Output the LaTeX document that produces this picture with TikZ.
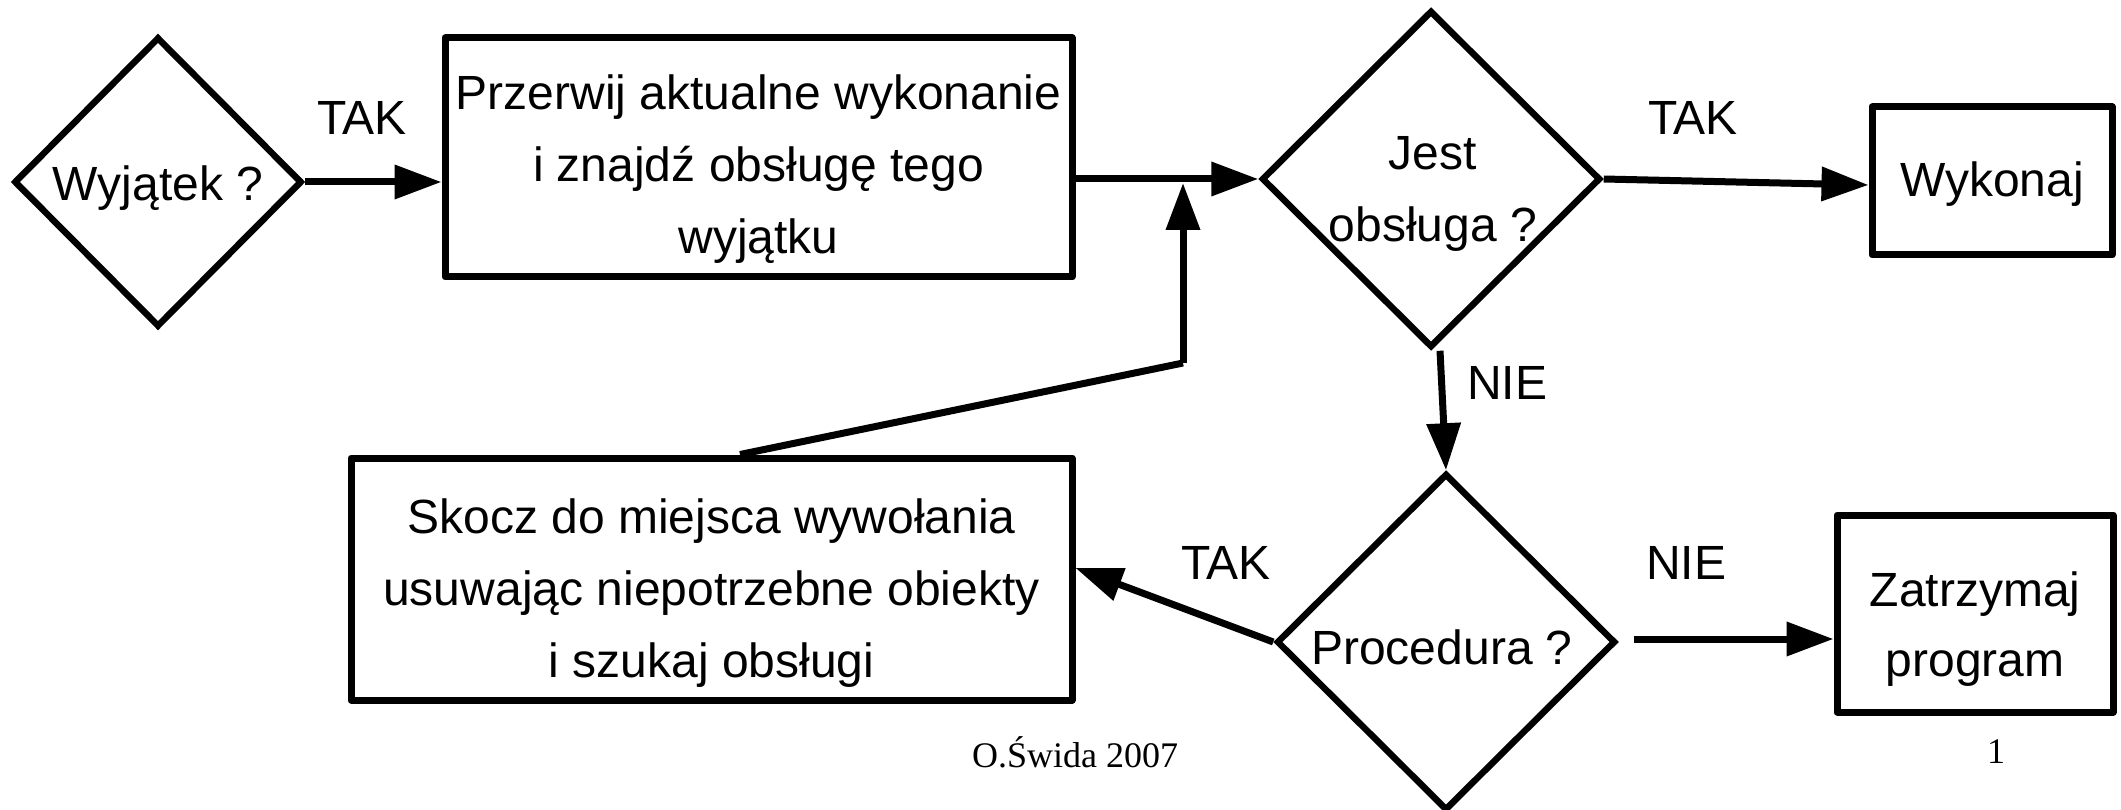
\documentclass[tikz,border=0pt]{standalone}
\usepackage{fontspec}
\setmainfont{Liberation Sans}
\newfontfamily\timesfont{Liberation Serif}
\usetikzlibrary{shapes.geometric,arrows.meta,calc}
\begin{document}
\begin{tikzpicture}[x=1pt,y=-1pt,
  every node/.style={font=\fontsize{48}{72}\selectfont},
  boxnode/.style={draw,line width=7pt,line join=round,rectangle,inner sep=0pt},
  decision/.style={draw,line width=6.5pt,line join=miter,diamond,inner sep=0pt},
  flow/.style={line width=7pt,-{Triangle[length=47pt,width=33pt]}},
  plain/.style={line width=7pt},
  lbl/.style={inner sep=0pt,align=center},
  foot/.style={inner sep=0pt,font=\timesfont\fontsize{36}{40}\selectfont}]
\useasboundingbox (0,0) rectangle (2121,810);
% shapes
\node[decision,minimum width=288pt,minimum height=290pt] (W) at (158,182) {};
\node[boxnode,minimum width=627pt,minimum height=239pt] (B1) at (758.5,157.5) {};
\node[decision,minimum width=339pt,minimum height=337pt] (J) at (1431,179) {};
\node[boxnode,minimum width=240pt,minimum height=148pt] (K) at (1992,181) {};
\node[decision,minimum width=339pt,minimum height=337pt] (P) at (1446,642) {};
\node[boxnode,minimum width=721pt,minimum height=242pt] (S) at (711.5,579) {};
\node[boxnode,minimum width=276pt,minimum height=197pt] (Z) at (1975,613.5) {};
% texts
\node[lbl] (Wt) at (158,188) {Wyjątek ?};
\node[lbl] (B1t) at ($(B1.center)+(0,12)$) {Przerwij aktualne wykonanie\\i znajdź obsługę tego\\wyjątku};
\node[lbl] (Jt) at (1433,194) {Jest\\obsługa ?};
\node[lbl] (Kt) at ($(K.center)+(0,3)$) {Wykonaj};
\node[lbl] (Pt) at (1442,647) {Procedura ?};
\node[lbl] (St) at ($(S.center)+(0,14)$) {Skocz do miejsca wywołania\\usuwając niepotrzebne obiekty\\i szukaj obsługi};
\node[lbl,font=\fontsize{48}{70}\selectfont] (Zt) at ($(Z.center)+(0,16)$) {Zatrzymaj\\program};
% labels
\node[lbl] (t1) at (362,118) {TAK};
\node[lbl] (t2) at (1693,118) {TAK};
\node[lbl] (n1) at (1507,383) {NIE};
\node[lbl] (t3) at (1226,563) {TAK};
\node[lbl] (n2) at (1686,563) {NIE};
\node[foot] (f1) at (1075,752) {O.Świda 2007};
\node[foot] (f2) at (1996,752) {1};
% connectors
\draw[flow] (W.east) -- (W.east -| B1.west);
\draw[flow] (J.west -| B1.east) -- (J.west);
\coordinate (s1) at ($(S.north)+(28.5,0)$);
\coordinate (m) at (1183,363);
\draw[plain,line join=miter] (s1) -- (m);
\draw[flow] (m) -- ($(m |- J.west)+(0,4)$);
\draw[flow] (J.east) -- ([yshift=-4pt]K.west);
\draw[flow] ([xshift=9pt]J.south) -- (P.north);
\draw[flow] (P.west) -- ([yshift=11pt]S.east);
\coordinate (p1) at ($(P.east)+(15,-3)$);
\draw[flow] (p1) -- (p1 -| Z.west);
\end{tikzpicture}
\end{document}
